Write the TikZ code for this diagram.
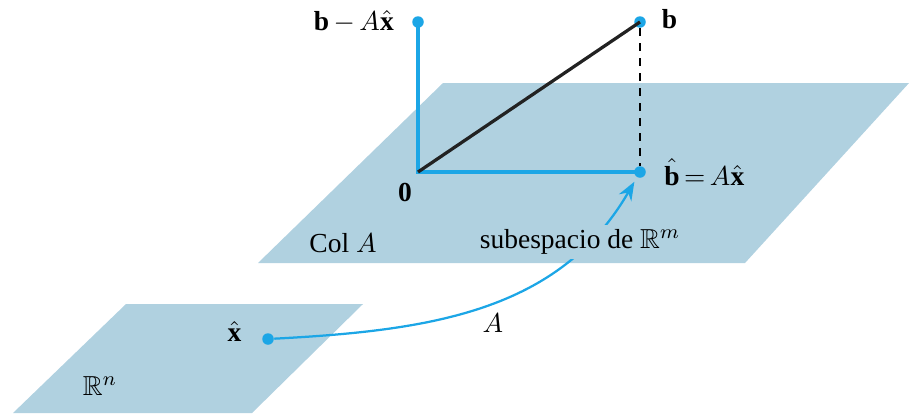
\documentclass[tikz,border=0pt]{standalone}
\usepackage{amsmath,amssymb}
\usepackage{fontspec}
\setmainfont{Liberation Serif}
\usetikzlibrary{positioning, arrows.meta}
\definecolor{PlaneB}{HTML}{B0D1E0}
\definecolor{CyanA}{HTML}{1CA6E6}
\definecolor{GrayA}{HTML}{222222}
\tikzset{
  pl/.style={fill=PlaneB, draw=none},
  dt/.style={circle, fill=CyanA, inner sep=0pt, minimum size=4.6pt},
  bl/.style={draw=CyanA, line width=1.4pt},
  ar/.style={-{Stealth[length=2.6mm, width=2mm]}, draw=CyanA, line width=0.9pt},
  lb/.style={font=\fontsize{11}{13}\selectfont, inner sep=1pt},
}

\begin{document}
\begin{tikzpicture}[x=0.4pt, y=-0.4pt]
  \useasboundingbox (0,0) rectangle (911,415);
  % planes
  \fill[pl] (258,263) -- (745,263) -- (909,83) -- (443,83) -- cycle;
  \fill[pl] (13,413) -- (252,413) -- (363,304) -- (126,304) -- cycle;

  \coordinate (o) at (418,172);
  \node[dt] (r) at (418,22) {};
  \node[dt] (b) at (640,22) {};
  \node[dt] (bh) at (640,172) {};
  \node[dt] (xh) at (268,339) {};

  \node[lb, left=6pt of r] {$\mathbf{b}\,{-}\,A\hat{\mathbf{x}}$};
  \node[lb, right=5pt of b, yshift=1pt] {$\mathbf{b}$};
  \node[lb, right=6pt of bh] {$\hat{\mathbf{b}}\,{=}\,A\hat{\mathbf{x}}$};
  \node[lb] at (405,192) {$\mathbf{0}$};
  \node[lb] at (343,243) {Col $A$};
  \node[lb, left=7pt of xh, yshift=3pt] {$\hat{\mathbf{x}}$};
  \node[lb] at (100,386) {$\mathbb{R}^n$};
  \node[lb] at (493,323) {$A$};

  \draw[bl] (r.center) -- (o) -- (bh.center);
  \draw[draw=GrayA, line width=1.3pt] (o) -- (b.center);
  \draw[dashed, line width=0.5pt] (b) -- (bh);
  \draw[ar, shorten >=2pt] (xh) to[out=3, in=240] (bh);
  \node[lb, fill=PlaneB, inner sep=2pt] at (580,242) {subespacio de $\mathbb{R}^m$};
\end{tikzpicture}
\end{document}
